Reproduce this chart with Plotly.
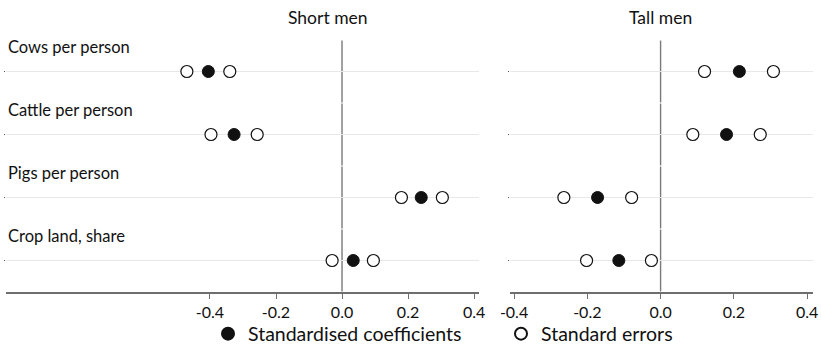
import plotly.graph_objects as go

categories = ["Cows per person", "Cattle per person", "Pigs per person", "Crop land, share"]
panels = ["Short men", "Tall men"]

short_coef = [-0.405, -0.327, 0.240, 0.034]
short_lo = [-0.470, -0.397, 0.180, -0.030]
short_hi = [-0.340, -0.257, 0.304, 0.095]

tall_coef = [0.215, 0.180, -0.172, -0.114]
tall_lo = [0.120, 0.088, -0.264, -0.202]
tall_hi = [0.308, 0.272, -0.079, -0.025]

tick_vals = [-0.4, -0.2, 0.0, 0.2, 0.4]
tick_text = ["-0.4", "-0.2", "0.0", "0.2", "0.4"]

FONT = "Lato, 'Open Sans', sans-serif"
TXT = "#111111"
W, H = 821, 348

n = len(categories)
ypos = [n - 1 - i for i in range(n)]

fig = go.Figure()

def add_panel(coef, lo, hi, xa, ya, show):
    se_x, se_y = [], []
    for i in range(n):
        se_x += [lo[i], hi[i]]
        se_y += [ypos[i], ypos[i]]
    fig.add_trace(go.Scatter(
        x=coef, y=ypos, mode="markers", xaxis=xa, yaxis=ya,
        name="Standardised coefficients", showlegend=show, legendrank=1,
        marker=dict(symbol="circle", size=12, color="#111111",
                    line=dict(color="#111111", width=1)),
        hoverinfo="skip"))
    fig.add_trace(go.Scatter(
        x=se_x, y=se_y, mode="markers", xaxis=xa, yaxis=ya,
        name="Standard errors", showlegend=show, legendrank=2,
        marker=dict(symbol="circle", size=12, color="white",
                    line=dict(color="#111111", width=1.2)),
        hoverinfo="skip"))

add_panel(short_coef, short_lo, short_hi, "x", "y", True)
add_panel(tall_coef, tall_lo, tall_hi, "x2", "y2", False)

ydom = [(H - 292) / H, (H - 40) / H]
xcommon = dict(
    tickmode="array", tickvals=tick_vals, ticktext=tick_text,
    showgrid=False, zeroline=False,
    showline=True, linecolor="#6e6e6e", linewidth=1.6,
    ticks="outside", ticklen=5, tickcolor="#707070", automargin=False,
    tickfont=dict(family=FONT, size=16, color=TXT), fixedrange=True,
)
ycommon = dict(
    range=[-0.5, 3.5], domain=ydom, tickmode="array", tickvals=ypos,
    showticklabels=False, showgrid=True, gridcolor="#e8e8e8", gridwidth=1,
    zeroline=False, showline=False, ticks="outside", ticklen=1, automargin=False,
    tickcolor="#555555", fixedrange=True,
)

fig.update_layout(
    width=W, height=H,
    margin=dict(l=0, r=0, t=0, b=0, autoexpand=False),
    paper_bgcolor="white", plot_bgcolor="white",
    font=dict(family=FONT, size=16, color=TXT),
    xaxis=dict(domain=[6 / W, 479 / W], range=[-1.018, 0.415], anchor="y", **xcommon),
    yaxis=dict(anchor="x", **ycommon),
    xaxis2=dict(domain=[510 / W, 813 / W], range=[-0.411, 0.416], anchor="y2", **xcommon),
    yaxis2=dict(anchor="x2", **ycommon),
    legend=dict(orientation="h", x=208 / W, xanchor="left", y=(H - 334) / H,
                yanchor="middle", font=dict(family=FONT, size=19.5, color=TXT),
                bgcolor="rgba(0,0,0,0)", itemsizing="constant", entrywidth=248),
    showlegend=True,
)

# zero reference line, drawn per row band (small gaps between facets)
shapes = []
for xr, yr in (("x", "y"), ("x2", "y2")):
    for r in ypos:
        shapes.append(dict(type="line", xref=xr, yref=yr, x0=0, x1=0,
                           y0=r - 0.5 + 0.009, y1=r + 0.5 - 0.009,
                           line=dict(color="#7a7a7a", width=1.4), layer="below"))
fig.update_layout(shapes=shapes)

annotations = []
for i, cat in enumerate(categories):
    annotations.append(dict(
        text=cat, x=6 / W, xref="paper", xanchor="left",
        y=ypos[i] + 0.385, yref="y", yanchor="middle", showarrow=False,
        font=dict(family=FONT, size=16.5, color=TXT)))
annotations.append(dict(text=panels[0], x=328 / W, xref="paper", xanchor="center",
                        y=(H - 18) / H, yref="paper", yanchor="middle", showarrow=False,
                        font=dict(family=FONT, size=17.5, color=TXT)))
annotations.append(dict(text=panels[1], x=660 / W, xref="paper", xanchor="center",
                        y=(H - 18) / H, yref="paper", yanchor="middle", showarrow=False,
                        font=dict(family=FONT, size=17.5, color=TXT)))
fig.update_layout(annotations=annotations)

fig.write_html("out.html")
